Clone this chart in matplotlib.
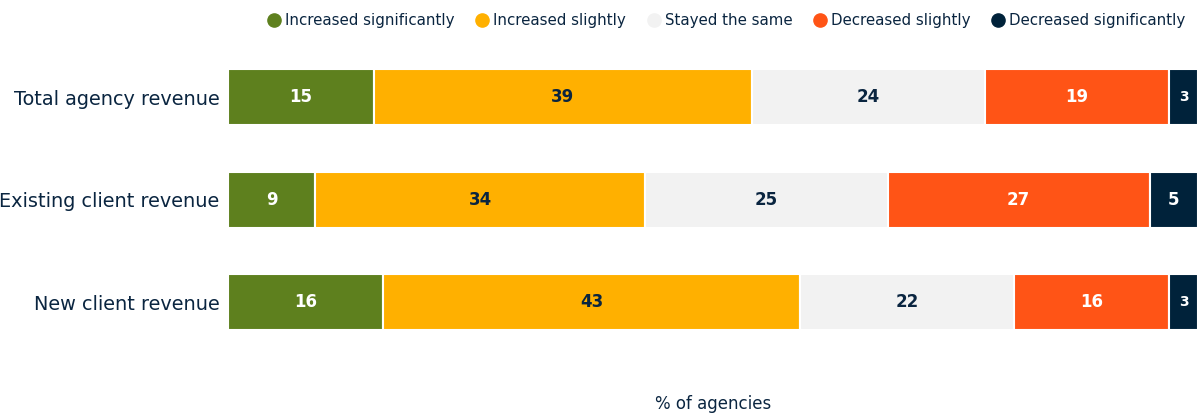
import matplotlib
matplotlib.use("Agg")
import matplotlib.pyplot as plt
from matplotlib.lines import Line2D

categories = ["Total agency revenue", "Existing client revenue", "New client revenue"]
series_names = ["Increased significantly", "Increased slightly", "Stayed the same",
                "Decreased slightly", "Decreased significantly"]
inc_sig = [15, 9, 16]
inc_sl = [39, 34, 43]
same = [24, 25, 22]
dec_sl = [19, 27, 16]
dec_sig = [3, 5, 3]
series_values = [inc_sig, inc_sl, same, dec_sl, dec_sig]

colors = ["#5E801E", "#FFB000", "#F2F2F2", "#FF5416", "#00223A"]
label_colors = ["white", "#0A2540", "#0A2540", "white", "white"]
text_color = "#0A2540"

fig = plt.figure(figsize=(11.99, 4.13), dpi=100)
ax = fig.add_axes([228 / 1199, 1 - 353.5 / 413, 970 / 1199, 307.5 / 413])

ypos = list(range(len(categories)))
left = [0] * len(categories)
for name, vals, c, lc in zip(series_names, series_values, colors, label_colors):
    ax.barh(ypos, vals, left=left, height=0.55, color=c, edgecolor="white",
            linewidth=1.5, label=name)
    for y, v, l in zip(ypos, vals, left):
        fs = 10 if v < 4 else 12
        ax.text(l + v / 2, y, str(v), ha="center", va="center", color=lc,
                fontsize=fs, fontweight="bold")
    left = [l + v for l, v in zip(left, vals)]

ax.set_xlim(0, 100)
ax.set_ylim(2.5, -0.5)
ax.set_yticks(ypos)
ax.set_yticklabels(categories, fontsize=13.9, color=text_color)
ax.tick_params(axis="y", length=0, pad=6)
ax.set_xticks([])
for s in ax.spines.values():
    s.set_visible(False)

fig.text(713 / 1199, 1 - 404 / 413, "% of agencies", fontsize=12, color=text_color,
         ha="center", va="center")

handles = [Line2D([0], [0], marker="o", linestyle="", markersize=9.5,
                  markerfacecolor=c, markeredgecolor=c) for c in colors]
leg = fig.legend(handles, series_names, loc="center", bbox_to_anchor=(726 / 1199, 1 - 21 / 413),
                 ncol=5, frameon=False, fontsize=10.8, handletextpad=0.25, handlelength=1.0,
                 columnspacing=1.33, borderaxespad=0, borderpad=0)
for t in leg.get_texts():
    t.set_color(text_color)

fig.savefig("out.png", dpi=100)
